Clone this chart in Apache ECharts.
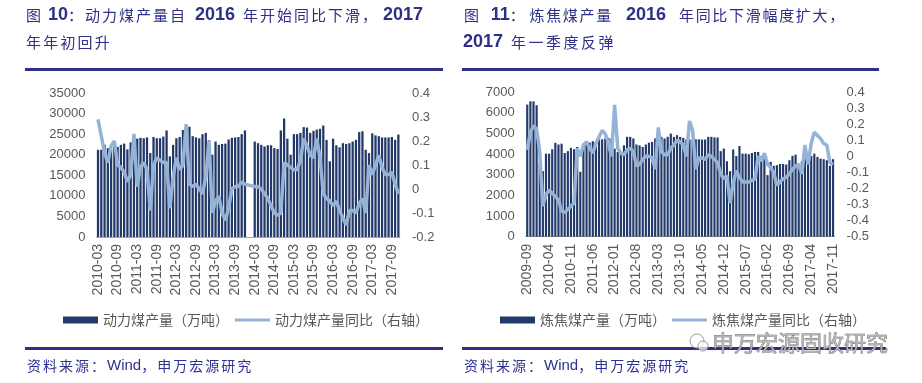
<!DOCTYPE html>
<html><head><meta charset="utf-8">
<script src="https://cdn.jsdelivr.net/npm/echarts/dist/echarts.min.js"></script>
<style>html,body{margin:0;padding:0;background:#fff}#c{width:922px;height:383px}</style>
</head><body><div id="c"></div><script>
// ---------- data ----------
const leftStart = [2010, 3], leftCount = 93;
const rightStart = [2009, 9], rightCount = 99;

const leftBarsA = [21200,21200,22400,21600,21400,22000,21900,22400,22700,21300,23000,23500,23900,24100,24000,24200,
  20400,24300,24000,24000,24400,25900,19600,22400,24000,24300,26000,26200,26800,24500,24200,24000,25000,25300,23500,
  20000,23200,22400,22600,22700,23700,24100,24200,24300,25000,25900];
const leftGap = [null, null];
const leftBarsB = [23200,22800,22400,22000,22300,22300,21600,21400,25900,28800,23900,20000,25000,25000,25300,26700,
  26600,25300,25800,26100,26300,27100,23600,18400,23900,22300,21800,22800,22600,22800,23200,23600,25500,25700,
  21200,20400,25200,24700,24500,24200,24200,24200,24300,23600,24900];
const leftYoY = [0.29,0.22,0.15,0.11,0.18,0.20,0.10,0.09,0.07,0.03,
  0.06,0.23,0.01,0.09,0.11,0.08,-0.09,0.10,0.13,0.12,
  0.11,0.11,-0.08,0.05,0.13,0.08,0.10,0.27,0.02,0.01,
  0.02,0.00,-0.02,0.05,0.20,-0.10,-0.05,-0.03,-0.10,-0.13,
  -0.08,0.00,0.01,0.01,0.03,0.02,null,null,0.01,0.01,
  0.00,-0.02,-0.04,-0.07,-0.10,-0.11,-0.10,0.11,0.10,0.09,
  0.08,0.08,0.12,0.21,0.18,0.14,0.13,0.21,0.13,-0.02,
  -0.04,-0.05,-0.07,-0.05,-0.09,-0.12,-0.15,-0.09,-0.09,-0.10,
  -0.06,-0.04,-0.10,0.10,0.06,0.10,0.14,0.09,0.06,0.06,
  0.07,0.02,-0.02];

const rightBars = [6390,6550,6550,6360,3600,3170,4020,4020,4230,4540,
  4460,4500,4050,4140,4300,4230,4340,3140,4420,4590,
  4550,4620,4550,4910,4710,4750,4780,4750,4260,4100,
  4020,4420,4830,4830,4750,4460,4420,4340,4460,4550,
  4590,4750,4750,4830,4750,4830,4990,4830,4910,4830,
  4780,4700,4700,4700,4710,4710,4700,4700,4830,4830,
  4800,4800,4140,4260,3650,3170,4220,3900,4390,4020,
  4020,3990,4050,4100,4100,3890,4020,2980,3620,3430,
  3460,3520,3520,3490,3700,3910,3970,3400,3650,3900,
  3750,3910,4020,3860,3780,3750,3700,3430,3750];
const rightYoY = [0.04,0.15,0.19,0.17,0.03,-0.31,-0.24,-0.21,-0.23,-0.25,
  -0.27,-0.34,-0.35,-0.33,-0.31,-0.29,0.05,0.00,0.07,0.09,
  0.05,0.02,0.08,0.12,0.16,0.14,0.08,0.00,0.32,0.05,
  0.02,0.01,0.04,0.05,0.03,-0.06,-0.05,-0.02,0.00,0.00,
  -0.01,-0.08,0.18,0.03,0.01,0.01,0.05,0.07,0.10,0.09,
  0.07,0.00,0.22,0.16,-0.08,-0.01,-0.01,-0.02,0.01,0.00,
  -0.02,-0.04,-0.11,-0.14,-0.12,-0.29,-0.17,-0.09,-0.13,-0.16,
  -0.16,-0.16,-0.15,-0.14,0.00,-0.03,0.02,-0.05,-0.07,-0.10,
  -0.18,-0.16,-0.14,-0.13,-0.11,-0.08,-0.06,-0.05,-0.11,0.07,
  -0.05,0.08,0.15,0.13,0.11,0.08,0.07,-0.04,-0.05];

const leftNames = ['动力煤产量（万吨）', '动力煤产量同比（右轴）'];
const rightNames = ['炼焦煤产量（万吨）', '炼焦煤产量同比（右轴）'];
const leftTitle1 = ['图', '10', '：动力煤产量自', '2016', '年开始同比下滑，', '2017'];
const leftTitle2 = '年年初回升';
const rightTitle1 = ['图', '11', '：', '炼焦煤产量', '2016', '年同比下滑幅度扩大，'];
const rightTitle2 = ['2017', '年一季度反弹'];
const sourceText = ['资料来源：', 'Wind', '，申万宏源研究'];
const watermark = '申万宏源固收研究';

// ---------- helpers ----------
function months(start, n) {
  const out = []; let y = start[0], m = start[1];
  for (let i = 0; i < n; i++) {
    out.push(y + '-' + (m < 10 ? '0' : '') + m);
    m++; if (m > 12) { m = 1; y++; }
  }
  return out;
}
const leftCats = months(leftStart, leftCount);
const rightCats = months(rightStart, rightCount);
const leftBars = leftBarsA.concat(leftGap, leftBarsB);

function sp(str, st) { return str.split('').map(ch => '{' + st + '|' + ch + '}').join(''); }

const TC = '#2e2f87';
const cjk = 'Noto Sans CJK SC';
const richT = {
  c: {fontSize: 15, fontFamily: cjk, fill: TC, width: 17, verticalAlign: 'middle'},
  cr: {fontSize: 15, fontFamily: cjk, fill: TC, width: 16.7, verticalAlign: 'middle'},
  c2: {fontSize: 15, fontFamily: cjk, fill: TC, width: 17.2, verticalAlign: 'middle'},
  c3: {fontSize: 15, fontFamily: cjk, fill: TC, width: 17.5, verticalAlign: 'middle'},
  n: {fontSize: 18, fontWeight: 'bold', fontFamily: 'Liberation Sans', fill: TC, verticalAlign: 'middle'},
  s3: {width: 3}, s4: {width: 4}, s5: {width: 5}, s8: {width: 8}, s10: {width: 10}, s13: {width: 13}
};
const richS = {
  c: {fontSize: 14, fontFamily: cjk, fill: '#2e3192', width: 16, verticalAlign: 'middle'},
  w: {fontSize: 15, fontFamily: 'Liberation Sans', fill: '#2e3192', verticalAlign: 'middle'}
};

const lt1 = '{c|' + leftTitle1[0] + '}{s5| }{n|' + leftTitle1[1] + '}' + sp(leftTitle1[2], 'c') +
  '{s8| }{n|' + leftTitle1[3] + '}{s8| }' + sp(leftTitle1[4], 'c') + '{s4| }{n|' + leftTitle1[5] + '}';
const lt2 = sp(leftTitle2, 'c2');
const rt1 = '{cr|' + rightTitle1[0] + '}{s10| }{n|' + rightTitle1[1] + '}{cr|' + rightTitle1[2] + '}{s3| }' +
  sp(rightTitle1[3], 'cr') + '{s13| }{n|' + rightTitle1[4] + '}{s13| }' + sp(rightTitle1[5], 'cr');
const rt2 = '{n|' + rightTitle2[0] + '}{s8| }' + sp(rightTitle2[1], 'c3');
const src = sp(sourceText[0], 'c') + '{w|' + sourceText[1] + '}' + sp(sourceText[2], 'c');

const BAR = '#22396a', LINE = '#95b3d7', AX = '#595959', AXL = '#a6a6a6';
const fmt1 = v => String(Math.round(v * 10) / 10);
const fmt0 = v => String(Math.round(v));
const lineIcon = 'path://M0,0L40,0L40,3.2L0,3.2Z';

function xAx(grid, cats, iv) {
  return {type: 'category', gridIndex: grid, data: cats, boundaryGap: true,
    axisLine: {lineStyle: {color: AXL, width: 1}},
    axisTick: {interval: iv, alignWithLabel: true, length: 4, lineStyle: {color: AXL}},
    axisLabel: {interval: iv, rotate: 90, fontSize: 14, color: AX, fontFamily: 'Liberation Sans', margin: 7}};
}
function yAx(grid, min, max, iv, pos, f) {
  return {type: 'value', gridIndex: grid, min, max, interval: iv, position: pos,
    axisLine: {show: false}, axisTick: {show: false}, splitLine: {show: false},
    axisLabel: {fontSize: 13, color: AX, fontFamily: 'Liberation Sans', margin: pos === 'left' ? 11 : 12, formatter: f}};
}

const chart = echarts.init(document.getElementById('c'), null, {renderer: 'canvas'});
chart.setOption({
  animation: false,
  backgroundColor: '#ffffff',
  textStyle: {fontFamily: 'Liberation Sans, Noto Sans CJK SC'},
  grid: [
    {left: 96.4, top: 93, width: 303.6, height: 144},
    {left: 525.7, top: 92, width: 308.9, height: 144.7}
  ],
  xAxis: [xAx(0, leftCats, 5), xAx(1, rightCats, 6)],
  yAxis: [
    yAx(0, 0, 35000, 5000, 'left', fmt0),
    yAx(0, -0.2, 0.4, 0.1, 'right', fmt1),
    yAx(1, 0, 7000, 1000, 'left', fmt0),
    yAx(1, -0.5, 0.4, 0.1, 'right', fmt1)
  ],
  legend: [
    {left: 63, top: 313, padding: 0, itemWidth: 35, itemHeight: 7, itemGap: 6, selectedMode: false,
      textStyle: {fontSize: 14, color: AX, fontFamily: cjk},
      data: [{name: leftNames[0], icon: 'rect'}, {name: leftNames[1], icon: lineIcon}]},
    {left: 500, top: 313, padding: 0, itemWidth: 35, itemHeight: 7, itemGap: 6, selectedMode: false,
      textStyle: {fontSize: 14, color: AX, fontFamily: cjk},
      data: [{name: rightNames[0], icon: 'rect'}, {name: rightNames[1], icon: lineIcon}]}
  ],
  series: [
    {type: 'bar', name: leftNames[0], xAxisIndex: 0, yAxisIndex: 0, data: leftBars,
      itemStyle: {color: BAR}, barCategoryGap: '30%'},
    {type: 'line', name: leftNames[1], xAxisIndex: 0, yAxisIndex: 1, data: leftYoY, symbol: 'none',
      connectNulls: true, lineStyle: {width: 3.5, color: LINE}, itemStyle: {color: LINE}},
    {type: 'bar', name: rightNames[0], xAxisIndex: 1, yAxisIndex: 2, data: rightBars,
      itemStyle: {color: BAR}, barCategoryGap: '30%'},
    {type: 'line', name: rightNames[1], xAxisIndex: 1, yAxisIndex: 3, data: rightYoY, symbol: 'none',
      connectNulls: true, lineStyle: {width: 3.5, color: LINE}, itemStyle: {color: LINE}}
  ],
  graphic: [
    {type: 'text', x: 26, y: 15, style: {text: lt1, rich: richT, verticalAlign: 'middle', align: 'left'}},
    {type: 'text', x: 26, y: 42, style: {text: lt2, rich: richT, verticalAlign: 'middle', align: 'left'}},
    {type: 'text', x: 464, y: 15, style: {text: rt1, rich: richT, verticalAlign: 'middle', align: 'left'}},
    {type: 'text', x: 463, y: 42, style: {text: rt2, rich: richT, verticalAlign: 'middle', align: 'left'}},
    {type: 'rect', shape: {x: 25, y: 68, width: 418, height: 3}, style: {fill: TC}},
    {type: 'rect', shape: {x: 462, y: 68, width: 417, height: 3}, style: {fill: TC}},
    {type: 'rect', shape: {x: 25, y: 347, width: 418, height: 3}, style: {fill: TC}},
    {type: 'rect', shape: {x: 462, y: 347, width: 424, height: 3}, style: {fill: TC}},
    {type: 'text', x: 27, y: 366, style: {text: src, rich: richS, verticalAlign: 'middle', align: 'left'}},
    {type: 'text', x: 464, y: 366, style: {text: src, rich: richS, verticalAlign: 'middle', align: 'left'}},
    {type: 'circle', shape: {cx: 697, cy: 341, r: 7}, style: {fill: 'rgba(255,255,255,0.7)', stroke: '#9a9a9a', lineWidth: 1}, z: 10},
    {type: 'circle', shape: {cx: 703, cy: 346, r: 5}, style: {fill: 'rgba(255,255,255,0.7)', stroke: '#9a9a9a', lineWidth: 1}, z: 10},
    {type: 'text', x: 712, y: 343, z: 10, style: {text: watermark, fontSize: 22, fontFamily: cjk,
      fill: '#b4b4b4', stroke: '#5a5a5a', lineWidth: 0.6, verticalAlign: 'middle', align: 'left'}}
  ]
});
</script></body></html>
